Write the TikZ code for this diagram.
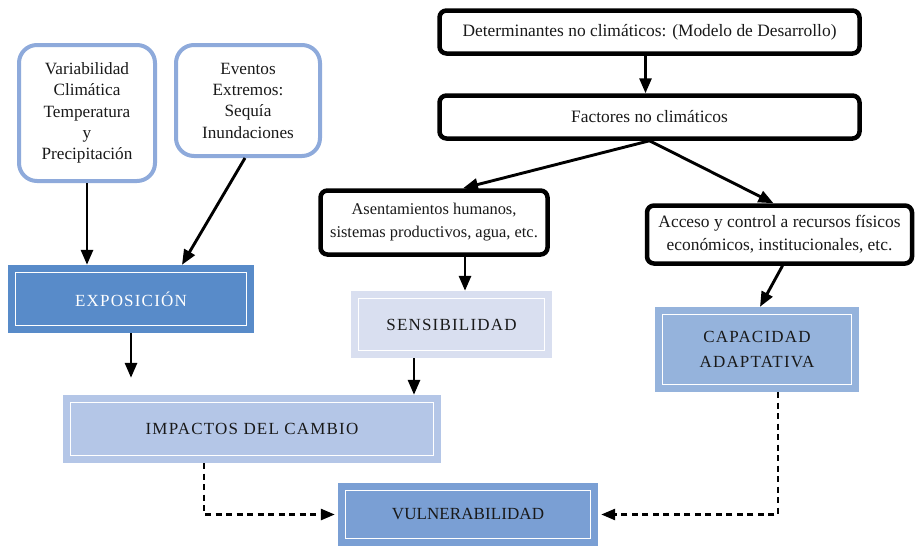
\documentclass[tikz,border=0pt]{standalone}
\usepackage{fontspec}
\setmainfont{Liberation Serif}
\newfontfamily\capsfont[LetterSpace=7]{Liberation Serif}
\newfontfamily\capsfonttight[LetterSpace=0.5]{Liberation Serif}
\usetikzlibrary{arrows.meta,calc}
\definecolor{rbord}{RGB}{142,170,219}
\definecolor{cexp}{RGB}{88,139,201}
\definecolor{csen}{RGB}{217,223,240}
\definecolor{cimp}{RGB}{180,198,231}
\definecolor{ccap}{RGB}{149,179,220}
\definecolor{cvul}{RGB}{122,159,212}
\definecolor{ctext}{RGB}{25,25,25}
\tikzset{
  rbox/.style={draw=rbord, line width=4pt, rounded corners=18pt, fill=white, align=center,
    font=\fontsize{17.2}{21.3}\selectfont, text=ctext, inner sep=0pt},
  kbox/.style={draw=black, line width=4.5pt, rounded corners=7pt, fill=white, align=center,
    font=\fontsize{17.4}{23}\selectfont, text=ctext, inner sep=0pt},
  dbox/.style={rectangle, draw=none, fill=#1, align=center, inner sep=0pt,
    font=\capsfont\fontsize{17}{25.5}\selectfont, text=ctext,
    path picture={\draw[white,line width=1.6pt]
      ([shift={(7.5pt,7.5pt)}]path picture bounding box.south west) rectangle
      ([shift={(-7.5pt,-7.5pt)}]path picture bounding box.north east);}},
  arr/.style={line width=2.9pt, -{Triangle[length=15pt,width=12pt]}},
  darr/.style={line width=2.6pt, dash pattern=on 6pt off 4.5pt, -{Triangle[length=14pt,width=11pt]}, shorten >=3pt},
}
\begin{document}
\begin{tikzpicture}[x=1pt,y=-1pt]
\useasboundingbox (0,0) rectangle (917,547);
% rounded blue boxes
\node[rbox, minimum width=136pt, minimum height=136pt] (var) at (87,113)
  {Variabilidad\\Climática\\Temperatura\\y\\Precipitación};
\node[rbox, minimum width=144pt, minimum height=111pt] (evt) at (248,100.5)
  {Eventos\\Extremos:\\Sequía\\Inundaciones};
% black boxes
\node[kbox, minimum width=420pt, minimum height=43pt] (det) at (649.5,32)
  {Determinantes no climáticos: (Modelo de Desarrollo)};
\node[kbox, minimum width=420pt, minimum height=43pt] (fac) at (649.5,117)
  {Factores no climáticos};
\node[kbox, minimum width=227pt, minimum height=64pt, font=\fontsize{16.4}{23}\selectfont] (ase) at (434,222.5)
  {Asentamientos humanos,\\sistemas productivos, agua, etc.};
\node[kbox, minimum width=265pt, minimum height=58pt] (acc) at (779.5,234.5)
  {Acceso y control a recursos físicos\\económicos, institucionales, etc.};
% double boxes
\node[dbox=cexp, minimum width=246pt, minimum height=68pt, text=white] (exp) at (131,299)
  {EXPOSICIÓN};
\node[dbox=csen, minimum width=201pt, minimum height=67pt] (sen) at (451.5,324.5)
  {SENSIBILIDAD};
\node[dbox=cimp, minimum width=378pt, minimum height=68pt] (imp) at (252,429)
  {IMPACTOS DEL CAMBIO};
\node[dbox=ccap, minimum width=204pt, minimum height=85pt] (cap) at (757,349.5)
  {CAPACIDAD\\ADAPTATIVA};
\node[dbox=cvul, minimum width=260pt, minimum height=63pt, font=\capsfonttight\fontsize{17}{25}\selectfont] (vul) at (468,514.5)
  {VULNERABILIDAD};
% arrows
\draw[arr] (var.south) -- (var.south |- exp.north);
\draw[arr] ([xshift=-3pt]evt.south) -- ([xshift=51pt]exp.north);
\draw[arr] ([xshift=-4pt]det.south) -- ([xshift=-4pt]fac.north);
\draw[arr] (fac.south) -- ([xshift=29pt]ase.north);
\draw[arr] (fac.south) -- ([xshift=-6pt]acc.north);
\draw[arr] ([xshift=31pt]ase.south) -- ([xshift=31pt]ase.south |- sen.north);
\draw[arr] ([xshift=3pt]acc.south) -- ([xshift=3pt]cap.north);
\draw[arr] (exp.south) -- ([yshift=17pt]imp.north -| exp.south);
\draw[arr] ([xshift=-37.5pt]sen.south) -- ([xshift=-37.5pt]sen.south |- imp.north);
\draw[darr] ([xshift=-48pt]imp.south) |- (vul.west);
\draw[darr] ([xshift=21pt]cap.south) |- (vul.east);
\end{tikzpicture}
\end{document}
